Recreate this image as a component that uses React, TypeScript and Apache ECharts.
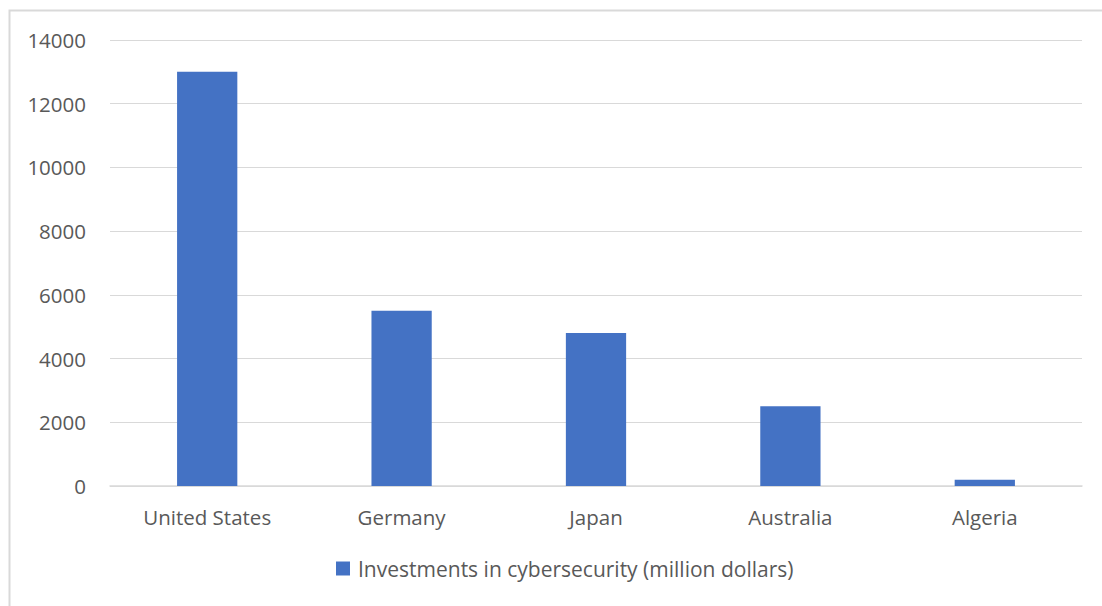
import React, { useEffect, useRef } from "react";
import * as echarts from "echarts";

const categories = ["United States", "Germany", "Japan", "Australia", "Algeria"];
const investments = [13000, 5500, 4800, 2500, 200];
const seriesName = "Investments in cybersecurity (million dollars)";
const yTicks = { min: 0, max: 14000, interval: 2000 };

export default function App() {
  const ref = useRef<HTMLDivElement>(null);
  useEffect(() => {
    if (!ref.current) return;
    const chart = echarts.init(ref.current, null, { renderer: "svg" });
    const font = "Open Sans";
    const fs = 20.5;
    chart.setOption({
      animation: false,
      backgroundColor: "#ffffff",
      textStyle: { fontFamily: font },
      graphic: [
        {
          type: "rect",
          shape: { x: 9.5, y: 10.5, width: 1200, height: 700 },
          style: { fill: "none", stroke: "#d9d9d9", lineWidth: 2 },
          silent: true,
        },
      ],
      grid: { left: 110, right: 20, top: 40, bottom: 120, containLabel: false },
      legend: {
        bottom: 22,
        left: 331,
        itemWidth: 14,
        itemHeight: 14,
        itemGap: 10,
        icon: "rect",
        textStyle: { color: "#595959", fontSize: 21, fontFamily: font, padding: [0, 0, 0, 3] },
        data: [seriesName],
      },
      xAxis: {
        type: "category",
        data: categories,
        axisLine: { lineStyle: { color: "#d9d9d9", width: 1.5 } },
        axisTick: { show: false },
        axisLabel: { color: "#595959", fontSize: fs, margin: 20, fontFamily: font },
      },
      yAxis: {
        type: "value",
        min: yTicks.min,
        max: yTicks.max,
        interval: yTicks.interval,
        axisLine: { show: false },
        axisTick: { show: false },
        splitLine: { lineStyle: { color: "#d9d9d9", width: 1 } },
        axisLabel: {
          color: "#595959",
          fontSize: fs,
          margin: 24,
          fontFamily: font,
          formatter: (v: number) => String(v),
        },
      },
      series: [
        {
          name: seriesName,
          type: "bar",
          data: investments,
          barWidth: "31%",
          itemStyle: { color: "#4472c4" },
        },
      ],
    });
    return () => chart.dispose();
  }, []);
  return (
    <div
      ref={ref}
      style={{ position: "fixed", left: 0, top: 0, width: 1102, height: 606 }}
    />
  );
}
